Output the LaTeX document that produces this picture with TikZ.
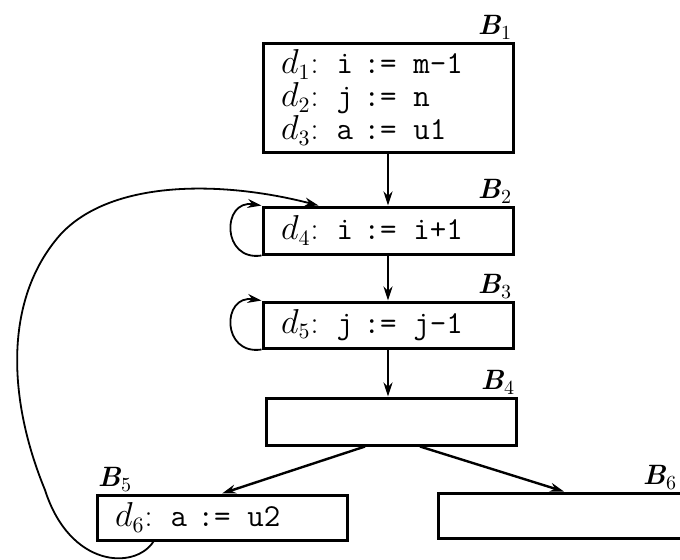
\documentclass[tikz,border=0pt]{standalone}
\usepackage{amsmath}
\usepackage{tikz}
\usetikzlibrary{arrows.meta, positioning, calc}
\newcommand{\blab}[1]{\textbf{\textit{B}}$_{#1}$}
\newcommand{\asg}[3]{$d_{#1}$:\hspace{9pt}\texttt{#2~:=~}\hspace{3pt}\texttt{#3}}

\begin{document}
\begin{tikzpicture}[
  x=0.5pt, y=-0.5pt,
  blk/.style={draw, line width=1.5pt, minimum height=23.5pt,
    text width=107pt, inner xsep=9pt, inner ysep=0pt, align=left,
    font=\fontsize{16}{16.5}\selectfont},
  flow/.style={-{Stealth[length=7pt, width=4.5pt]}, line width=1.2pt},
  back/.style={-{Stealth[length=7pt, width=4.5pt]}, line width=0.9pt},
  tag/.style={font=\fontsize{14}{14}\selectfont, inner sep=1pt},
]
  \useasboundingbox (0,0) rectangle (680,559);

  %% blocks
  \node[blk, minimum height=54.5pt,
    label={[tag, anchor=south east]north east:\blab{1}}] (b1) at (388,97.5)
    {\asg{1}{i}{m-1}\\ \asg{2}{j}{n}\\ \asg{3}{a}{u1}};
  \node[blk, label={[tag, anchor=south east]north east:\blab{2}}] (b2) at (388,230.5)
    {\asg{4}{i}{i+1}};
  \node[blk, minimum height=23pt,
    label={[tag, anchor=south east]north east:\blab{3}}] (b3) at (388,325)
    {\asg{5}{j}{j-1}};
  \node[blk, label={[tag, anchor=south east]north east:\blab{4}}] (b4) at (391,421.5) {};
  \node[blk, minimum height=22.5pt,
    label={[tag, anchor=south west]north west:\blab{5}}] (b5) at (222,517.5)
    {\asg{6}{a}{u2}};
  \node[blk, minimum height=22.5pt, text width=108pt,
    label={[tag, anchor=south east, xshift=-6pt]north east:\blab{6}}] (b6) at (564,515.5) {};

  %% straight flow
  \draw[flow] (b1) -- (b2);
  \draw[flow] (b2) -- (b3);
  \draw[flow] (b3.south) -- (b3.south |- b4.north);
  \draw[flow] ($(b4.south)+(-26,0)$) -- (b5.north);
  \draw[flow] ($(b4.south)+(29,0)$) -- (b6.north);

  %% self loops
  \draw[back] (b2.south west) .. controls +(-40,6) and +(-40,-6) .. (b2.north west);
  \draw[back] (b3.south west) .. controls +(-40,6) and +(-40,-6) .. (b3.north west);

  %% back edge B5 -> B2
  \coordinate (out5) at ($(b5.south west)+(58,0)$);
  \coordinate (in2) at ($(b2.north west)+(57,0)$);
  \draw[back] (out5) .. controls (135,570) and (70,568) .. (45,490)
    .. controls (8,400) and (3,300) .. (60,235)
    .. controls (110,180) and (220,180) .. (in2);
\end{tikzpicture}
\end{document}
